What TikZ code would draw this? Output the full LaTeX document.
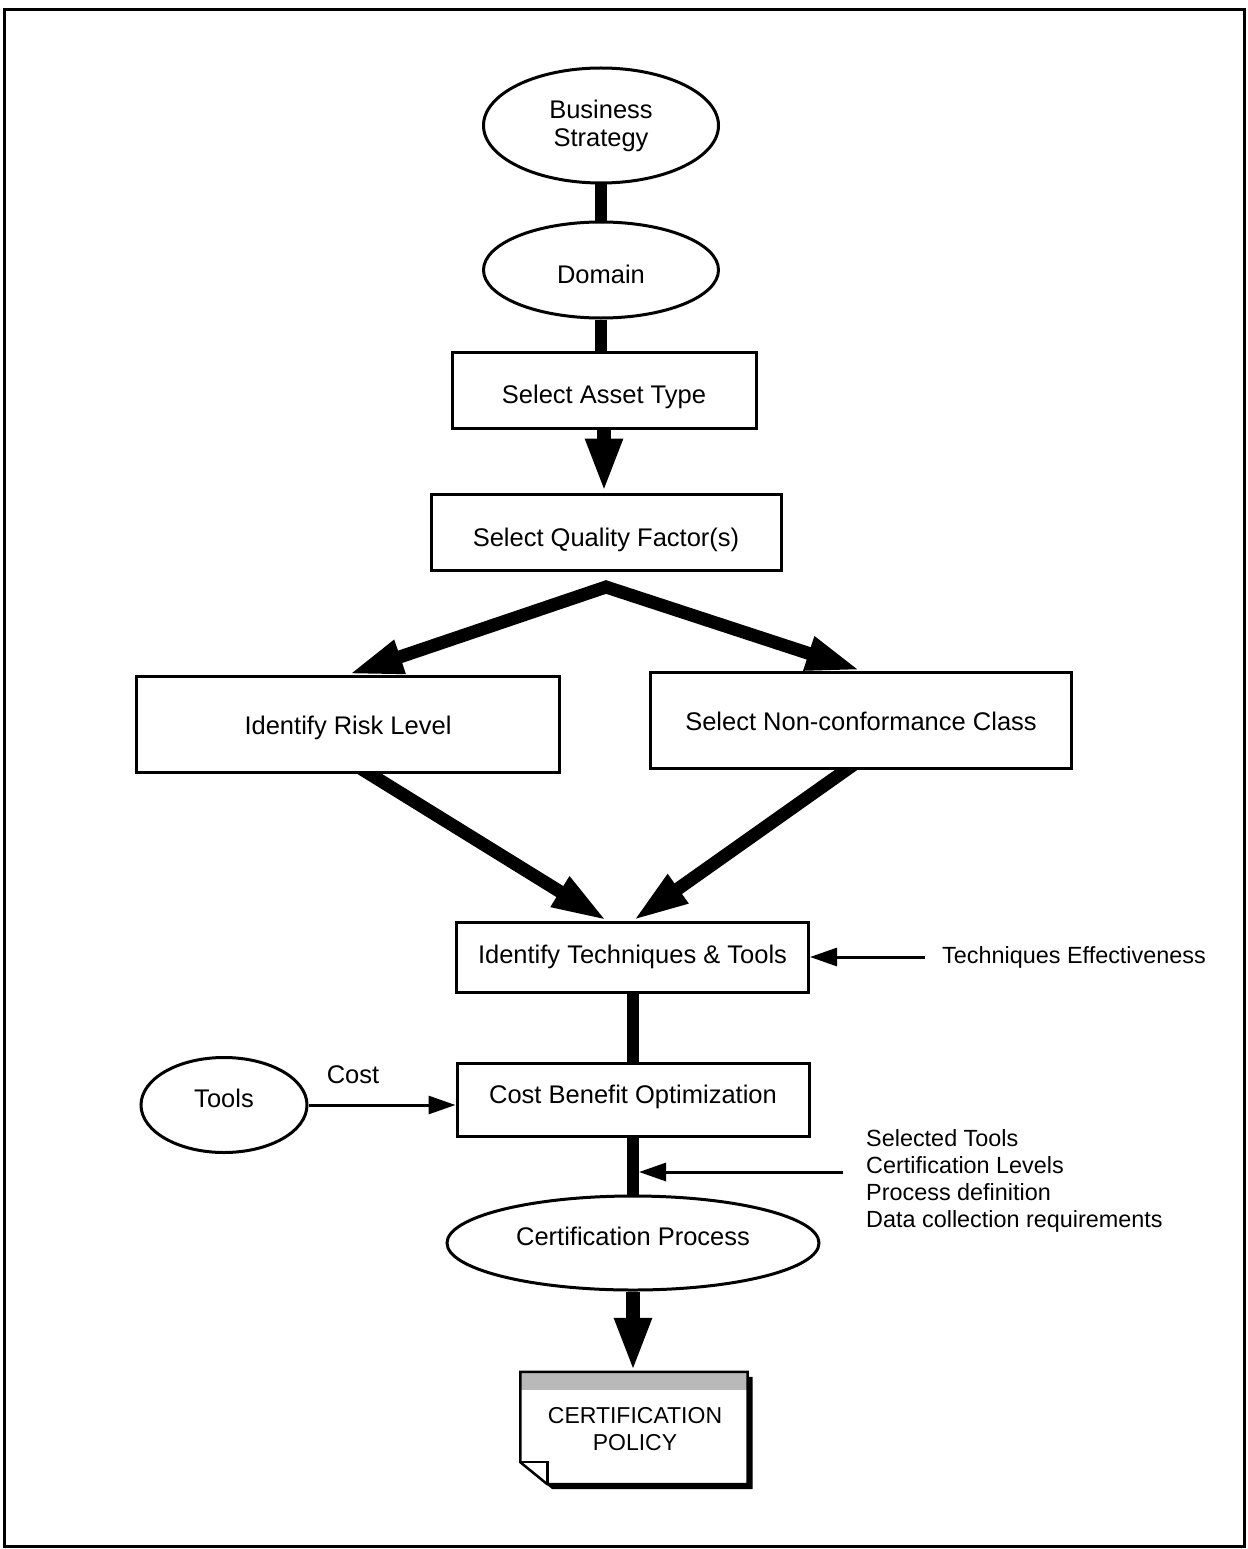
\documentclass[tikz,border=0pt]{standalone}
\usepackage{fontspec}
\setmainfont{Liberation Sans}
\usetikzlibrary{shapes.geometric,arrows.meta,calc,backgrounds}
\begin{document}
\begin{tikzpicture}[x=1pt,y=-1pt,
  box/.style={draw,fill=white,line width=3pt,rectangle,inner sep=0pt,font=\fontsize{25.5}{28}\selectfont,align=center},
  oval/.style={draw,fill=white,line width=3pt,ellipse,inner sep=0pt,font=\fontsize{25.5}{28}\selectfont,align=center},
  tv/.style={text height=#1,text depth=0pt},
  side/.style={inner sep=0pt,font=\fontsize{23.4}{27}\selectfont,align=left},
  bar/.style={line width=12pt},
  bigarrow/.style={line width=14pt,-{Triangle[length=54pt,width=34pt]}},
  slantarrow/.style={line width=13pt,-{Triangle[length=56pt,width=32pt]}},
  splitarrow/.style={line width=13pt,line join=miter,{Triangle[length=55pt,width=32pt]}-{Triangle[length=55pt,width=32pt]}},
  thinarrow/.style={line width=3pt,-{Triangle[length=27pt,width=18pt]}}]
\useasboundingbox (0,0) rectangle (1247,1549);
\draw[line width=3pt] (4,10) rectangle (1244,1546);

% nodes
\node[oval,minimum width=235pt,minimum height=115pt] (bs) at (601,125.5) {Business\\Strategy};
\node[oval,tv=26pt,minimum width=235pt,minimum height=96pt] (dom) at (601,270) {Domain};
\node[box,tv=26pt,minimum width=304pt,minimum height=76pt] (sat) at (604,390) {Select Asset Type};
\node[box,tv=28pt,minimum width=350pt,minimum height=76pt] (sqf) at (606,532) {Select Quality Factor(s)};
\node[box,tv=20pt,minimum width=423pt,minimum height=96pt] (risk) at (348,724) {Identify Risk Level};
\node[box,tv=20pt,minimum width=421pt,minimum height=96pt] (nc) at (861,720) {Select Non-conformance Class};
\node[box,tv=11pt,minimum width=352pt,minimum height=70pt] (tech) at (632.5,957.5) {Identify Techniques \& Tools};
\node[side,anchor=west] (te) at (942,957) {Techniques Effectiveness};
\node[box,tv=6pt,minimum width=352pt,minimum height=73pt] (cb) at (633,1100) {Cost Benefit Optimization};
\node[oval,tv=4pt,minimum width=166pt,minimum height=95pt] (tools) at (224,1105) {Tools};
\node[inner sep=0pt,font=\fontsize{25.5}{30}\selectfont] (cost) at (353,1075) {Cost};
\node[oval,tv=4pt,minimum width=372pt,minimum height=94pt] (cp) at (633,1243) {Certification Process};
\node[side,anchor=north west] (sel) at (866,1129) {Selected Tools\\Certification Levels\\Process definition\\Data collection requirements};

% document shape
\node[minimum width=227pt,minimum height=112pt,inner sep=0pt] (doc) at (634,1428) {};
\coordinate (da) at (doc.north west);
\coordinate (db) at (doc.north east);
\coordinate (dc) at (doc.south east);
\coordinate (dd) at ($(doc.south west)+(27,0)$);
\coordinate (de) at ($(doc.south west)+(0,-22)$);
\fill[black] ([shift={(5,5)}]da) -- ([shift={(5,5)}]db) -- ([shift={(5,5)}]dc) -- ([shift={(5,5)}]dd) -- ([shift={(5,5)}]de) -- cycle;
\fill[white] (da) -- (db) -- (dc) -- (dd) -- (de) -- cycle;
\fill[gray!55] (da) rectangle ($(db)+(0,18)$);
\draw[line width=2.5pt,line join=miter] (da) -- (db) -- (dc) -- (dd) -- (de) -- cycle;
\draw[line width=2.5pt] (de) -- (de -| dd) -- (dd);
\node[inner sep=0pt,align=center,font=\fontsize{23}{27}\selectfont] (doctext) at (635,1429) {CERTIFICATION\\POLICY};

% connectors
\begin{scope}[on background layer]
\draw[bar] (bs) -- (dom);
\draw[bar] (dom.south) -- (dom.south |- sat.north);
\draw[bigarrow] (sat.south) -- (sat.south |- sqf.north);
\coordinate (apex) at (606,587);
\draw[splitarrow] (risk.north) -- (apex) -- (nc.north);
\draw[slantarrow] ([shift={(8,-8)}]risk.south) -- ([xshift=-25pt]tech.north);
\draw[slantarrow] ([shift={(-3,-8)}]nc.south) -- (tech.north);
\draw[bar] (tech.south) -- (tech.south |- cb.north);
\draw[bar] (cb.south) -- (cb.south |- cp.north);
\draw[bigarrow] (cp.south) -- (cp.south |- doc.north);
\end{scope}
\draw[thinarrow] ([xshift=-17pt]te.west) -- (te.west -| tech.east);
\draw[thinarrow] (tools.east) -- (tools.east -| cb.west);
\coordinate (selstart) at (843,1172);
\coordinate (selend) at (639,1172);
\draw[thinarrow] (selstart) -- (selend);
\end{tikzpicture}
\end{document}
